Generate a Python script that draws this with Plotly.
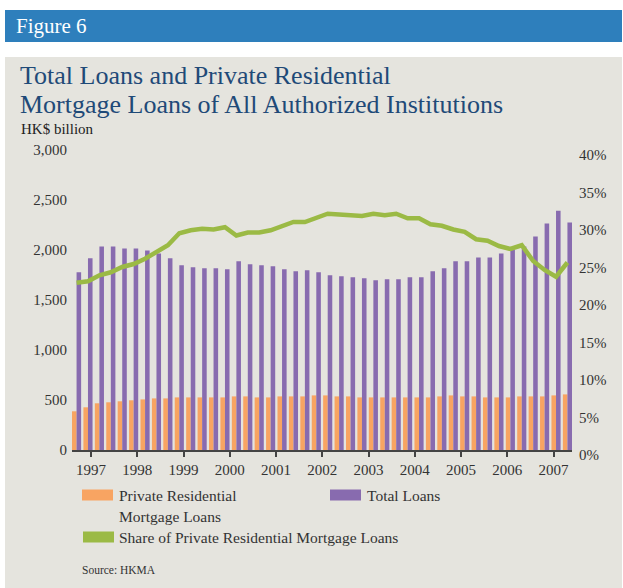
import numpy as np
import plotly.graph_objects as go

# Quarterly figures, HK$ billion (44 periods)
total_loans = [1777, 1917, 2036, 2036, 2016, 2016, 1996, 1966, 1917, 1847, 1827,
               1817, 1817, 1807, 1887, 1857, 1847, 1837, 1807, 1787, 1797, 1777,
               1748, 1738, 1728, 1718, 1698, 1708, 1708, 1728, 1728, 1787, 1817,
               1887, 1887, 1926, 1926, 1966, 2001, 2036, 2135, 2264, 2393, 2274]
mortgage_loans = [387, 427, 467, 477, 487, 497, 506, 516, 516, 526, 526,
                  526, 526, 526, 536, 536, 526, 526, 536, 536, 536, 546,
                  546, 536, 536, 526, 526, 526, 526, 526, 526, 526, 536,
                  546, 536, 536, 526, 526, 526, 536, 536, 536, 546, 556]
# Share of private residential mortgage loans, %
mortgage_share = [22.3, 22.5, 23.3, 23.7, 24.4, 24.8, 25.5, 26.4, 27.3, 28.9, 29.3,
                  29.5, 29.4, 29.7, 28.6, 29.0, 29.0, 29.3, 29.9, 30.4, 30.4, 31.0,
                  31.5, 31.4, 31.3, 31.2, 31.5, 31.3, 31.5, 30.9, 30.9, 30.1, 29.9,
                  29.4, 29.1, 28.1, 27.9, 27.2, 26.8, 27.3, 25.2, 24.0, 23.1, 25.0]
year_labels = [str(y) for y in range(1997, 2008)]
left_ticks = [0, 500, 1000, 1500, 2000, 2500, 3000]
right_ticks = [0, 5, 10, 15, 20, 25, 30, 35, 40]
right_tick_labels = [f"{v}%" for v in right_ticks]

ORANGE = "#F8A462"
PURPLE = "#886BAF"
GREEN = "#9BBA45"
BLUE = "#2E7FBC"
PANEL = "#E5E4DE"
NAVY = "#1F4A78"
TEXT = "#333333"
SERIF = "Liberation Serif, Times New Roman, serif"

W, H = 623, 588
L, R, T, B = 72, 51, 150, 138
PW, PH = W - L - R, H - T - B


def px(x):
    """Horizontal pixel position -> paper coordinate."""
    return (x - L) / PW


def py(y):
    """Vertical pixel position (from top) -> paper coordinate."""
    return (H - B - y) / PH


quarters = np.arange(len(total_loans))
# year ticks sit a little past the first quarter of each year
year_pos = [1.27 + 4.052 * k for k in range(len(year_labels))]

fig = go.Figure()
fig.add_trace(go.Bar(x=quarters, y=mortgage_loans, marker_color=ORANGE,
                     marker_line_width=0, name="Private Residential Mortgage Loans"))
fig.add_trace(go.Bar(x=quarters, y=total_loans, marker_color=PURPLE,
                     marker_line_width=0, name="Total Loans"))
fig.add_trace(go.Scatter(x=quarters, y=mortgage_share, yaxis="y2", mode="lines",
                         line=dict(color=GREEN, width=4.5),
                         name="Share of Private Residential Mortgage Loans"))

shapes = [
    dict(type="rect", xref="paper", yref="paper", x0=px(5), x1=px(622), y0=py(42), y1=py(10),
         fillcolor=BLUE, line_width=0, layer="below"),
    dict(type="rect", xref="paper", yref="paper", x0=px(5), x1=px(622), y0=py(588), y1=py(57),
         fillcolor=PANEL, line_width=0, layer="below"),
]

# legend swatches
legend_items = [
    (82, 495, ORANGE),
    (330, 495, PURPLE),
    (83, 537, GREEN),
]
for x0, yc, col in legend_items:
    shapes.append(dict(type="rect", xref="paper", yref="paper",
                       x0=px(x0), x1=px(x0 + 31), y0=py(yc + 5.5), y1=py(yc - 5.5),
                       fillcolor=col, line_width=0))

annotations = []


def text(s, x, y, size, color=TEXT, xanchor="left"):
    annotations.append(dict(text=s, x=px(x), y=py(y), xref="paper", yref="paper",
                            xanchor=xanchor, yanchor="middle", showarrow=False,
                            font=dict(family=SERIF, size=size, color=color)))


text("Figure 6", 14, 26, 21, "white")
text("Total Loans and Private Residential", 18, 75.5, 26, NAVY)
text("Mortgage Loans of All Authorized Institutions", 18, 104, 26, NAVY)
text("HK$ billion", 19, 129, 15, "#222222")
text("Private Residential", 117, 495, 15.5)
text("Mortgage Loans", 117, 516, 15.5)
text("Total Loans", 365, 495, 15.5)
text("Share of Private Residential Mortgage Loans", 117, 537, 15.5)
text("Source: HKMA", 80, 570, 11.5)

fig.update_layout(
    width=W, height=H,
    margin=dict(l=L, r=R, t=T, b=B, pad=0),
    paper_bgcolor="white",
    plot_bgcolor=PANEL,
    barmode="group", bargap=0.2, bargroupgap=0,
    showlegend=False,
    shapes=shapes,
    annotations=annotations,
    font=dict(family=SERIF, size=15, color=TEXT),
    xaxis=dict(range=[-0.4, 43.4], tickmode="array", tickvals=year_pos, ticktext=year_labels,
               showgrid=False, zeroline=False, showline=True, linecolor="#444444", linewidth=1.5,
               ticks="outside", ticklen=5, tickwidth=1.5, tickcolor="#444444",
               tickfont=dict(family=SERIF, size=15, color=TEXT)),
    yaxis=dict(range=[0, 3000], tickmode="array", tickvals=left_ticks, tickformat=",",
               showgrid=False, zeroline=False, showline=False, ticks="", ticklabelstandoff=4,
               tickfont=dict(family=SERIF, size=15, color=TEXT)),
    yaxis2=dict(range=[0, 40], overlaying="y", side="right", tickmode="array",
                tickvals=right_ticks, ticktext=right_tick_labels, showgrid=False,
                zeroline=False, showline=False, ticks="", ticklabelshift=5,
                ticklabelstandoff=6,
                tickfont=dict(family=SERIF, size=15, color=TEXT)),
)

fig.write_html("out.html")
